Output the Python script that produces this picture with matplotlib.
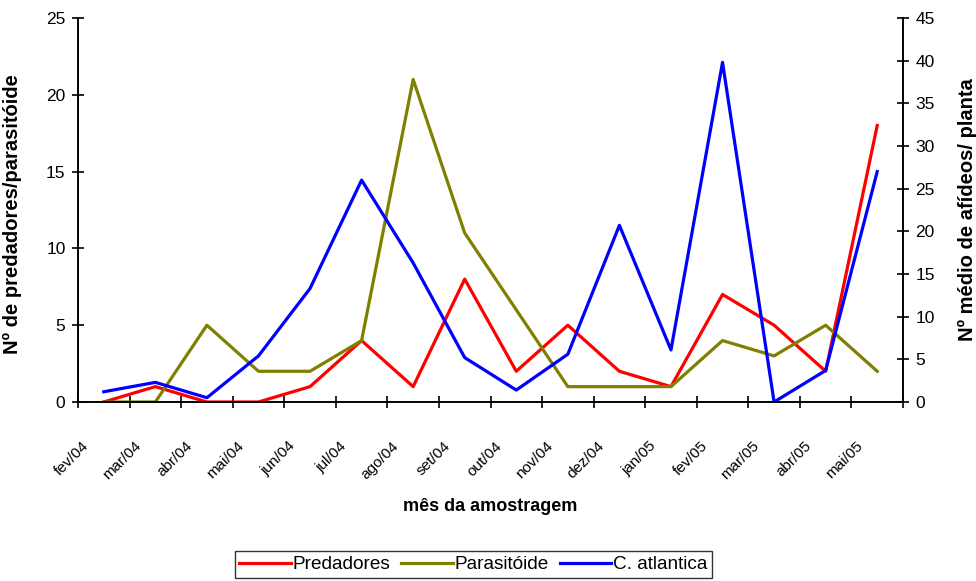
import matplotlib
matplotlib.use("Agg")
import matplotlib.pyplot as plt
from matplotlib.transforms import ScaledTranslation

# ---------------------------
# data
# ---------------------------
months = ["fev/04", "mar/04", "abr/04", "mai/04", "jun/04", "jul/04", "ago/04", "set/04",
          "out/04", "nov/04", "dez/04", "jan/05", "fev/05", "mar/05", "abr/05", "mai/05"]
predadores = [0, 1, 0, 0, 1, 4, 1, 8, 2, 5, 2, 1, 7, 5, 2, 18]
parasitoide = [0, 0, 5, 2, 2, 4, 21, 11, 6, 1, 1, 1, 4, 3, 5, 2]
c_atlantica = [1.2, 2.3, 0.5, 5.4, 13.3, 26.0, 16.3, 5.2, 1.4, 5.6, 20.7, 6.1, 39.8, 0.0, 3.7, 27.0]

plt.rcParams["font.family"] = ["Liberation Sans", "DejaVu Sans"]

fig = plt.figure(figsize=(9.76, 5.81), dpi=100)
ax = fig.add_axes([78 / 976, 1 - 402 / 581, 825 / 976, 384 / 581])
ax2 = ax.twinx()

xs = list(range(len(months)))
l1, = ax.plot(xs, predadores, color="#FF0000", lw=2.3, label="Predadores")
l2, = ax.plot(xs, parasitoide, color="#808000", lw=2.3, label="Parasitóide")
l3, = ax2.plot(xs, c_atlantica, color="#0000FF", lw=2.3, label="C. atlantica")

ax.set_xlim(-0.5, len(months) - 0.5)
ax.set_ylim(0, 25)
ax2.set_ylim(0, 45)
ax.set_yticks(range(0, 26, 5))
ax2.set_yticks(range(0, 46, 5))

# tick marks on category boundaries, labels at category centres
ax.set_xticks([i - 0.5 for i in range(len(months) + 1)])
ax.set_xticklabels([])
ax.set_xticks(xs, minor=True)
ax.set_xticklabels(months, minor=True, rotation=45, ha="right", va="center",
                   rotation_mode="anchor", fontsize=11)
ax.tick_params(axis="x", which="minor", length=0, pad=0)
ax.tick_params(axis="x", which="major", direction="inout", length=9, width=1.2)
shift = ScaledTranslation(-0.17, -0.42, fig.dpi_scale_trans)
for lab in ax.get_xticklabels(minor=True):
    lab.set_transform(lab.get_transform() + shift)

ax.tick_params(axis="y", direction="inout", length=9, width=1.2, labelsize=12.5, pad=4.5)
ax2.tick_params(axis="y", direction="inout", length=9, width=1.2, labelsize=12.5, pad=4.5)

for a in (ax, ax2):
    a.spines["top"].set_visible(False)
    for s in ("left", "right", "bottom"):
        a.spines[s].set_linewidth(1.2)

ax.set_xlabel("mês da amostragem", fontsize=13, fontweight="bold")
ax.xaxis.set_label_coords(0.5, -0.25)
ax.set_ylabel("Nº de predadores/parasitóide", fontsize=14.5, fontweight="bold")
ax.yaxis.set_label_coords(-0.068, 0.49)
ax2.set_ylabel("Nº médio de afídeos/ planta", fontsize=14.5, fontweight="bold")
ax2.yaxis.set_label_coords(1.067, 0.5)

leg = fig.legend(handles=[l1, l2, l3], loc="center", bbox_to_anchor=(473.5 / 976, 1 - 564.5 / 581),
                 ncol=3, fontsize=13.7, frameon=True, fancybox=False, handlelength=2.7,
                 handletextpad=0.1, columnspacing=0.58, borderpad=0.25, borderaxespad=0)
leg.get_frame().set_edgecolor("black")
leg.get_frame().set_linewidth(1.0)

fig.savefig("out.png", dpi=100)
